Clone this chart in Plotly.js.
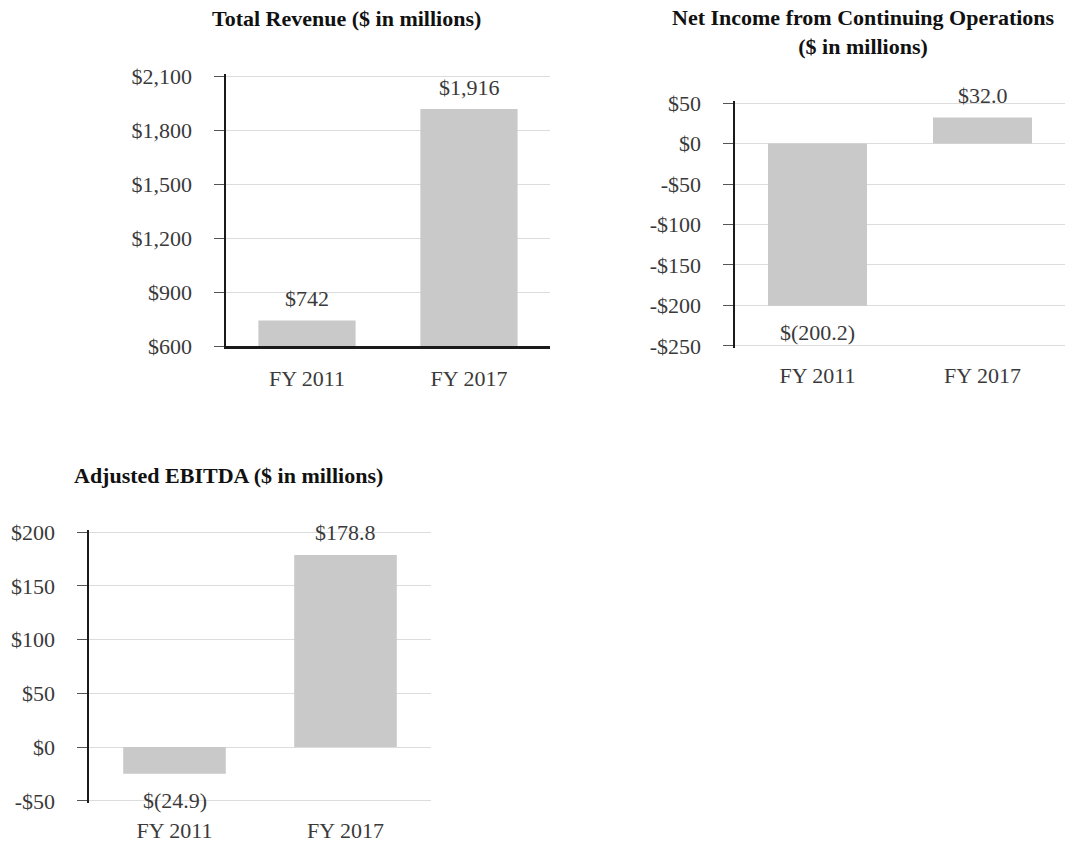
<!DOCTYPE html>
<html>
<head>
<meta charset="utf-8">
<script src="https://cdn.plot.ly/plotly-3.0.1.min.js"></script>
<style>
  html, body { margin: 0; padding: 0; background: #ffffff; }
  #chart { width: 1065px; height: 846px; }
</style>
</head>
<body>
<div id="chart"></div>
<script>
// ---- Data ----
const categories = ["FY 2011", "FY 2017"];

const revenueValues = [742, 1916];
const revenueLabels = ["$742", "$1,916"];
const revenueTickVals = [600, 900, 1200, 1500, 1800, 2100];
const revenueTickText = ["$600", "$900", "$1,200", "$1,500", "$1,800", "$2,100"];

const netIncomeValues = [-200.2, 32.0];
const netIncomeLabels = ["$(200.2)", "$32.0"];
const netIncomeTickVals = [-250, -200, -150, -100, -50, 0, 50];
const netIncomeTickText = ["-$250", "-$200", "-$150", "-$100", "-$50", "$0", "$50"];

const ebitdaValues = [-24.9, 178.8];
const ebitdaLabels = ["$(24.9)", "$178.8"];
const ebitdaTickVals = [-50, 0, 50, 100, 150, 200];
const ebitdaTickText = ["-$50", "$0", "$50", "$100", "$150", "$200"];

const titles = [
  "Total Revenue ($ in millions)",
  "Net Income from Continuing Operations<br>($ in millions)",
  "Adjusted EBITDA ($ in millions)"
];

// ---- Styles ----
const FONT = "Liberation Serif, Times New Roman, serif";
const FS = 22;
const BAR_COLOR = "#c9c9c9";
const GRID = "#dcdcdc";
const TEXT = "#3a3a3a";
const W = 1065, H = 846;

function barTrace(vals, xa, ya) {
  return {
    type: "bar",
    x: categories,
    y: vals,
    xaxis: xa,
    yaxis: ya,
    marker: { color: BAR_COLOR, line: { width: 0 } },
    hoverinfo: "skip",
    showlegend: false
  };
}

const data = [
  barTrace(revenueValues, "x", "y"),
  barTrace(netIncomeValues, "x2", "y2"),
  barTrace(ebitdaValues, "x3", "y3")
];

// pixel-space helper: domain from top/bottom pixel positions
function yDom(topPx, botPx) { return [1 - botPx / H, 1 - topPx / H]; }

function yAxis(range, tv, tt, domain, anchor) {
  return {
    domain: domain,
    anchor: anchor,
    range: range,
    tickmode: "array",
    tickvals: tv,
    ticktext: tt,
    showgrid: true,
    gridcolor: GRID,
    gridwidth: 1,
    zeroline: false,
    showline: true,
    linecolor: "#1a1a1a",
    linewidth: 2.5,
    ticks: "outside",
    ticklen: 10,
    tickwidth: 1,
    tickcolor: "#555555",
    ticklabelstandoff: 17,
    tickfont: { family: FONT, size: FS, color: TEXT },
    fixedrange: true
  };
}

function xAxis(domain, anchor, standoff, line) {
  return {
    domain: domain,
    anchor: anchor,
    type: "category",
    showgrid: false,
    zeroline: false,
    showline: line,
    linecolor: "#1a1a1a",
    linewidth: 2.5,
    ticks: "",
    ticklabelstandoff: standoff,
    tickfont: { family: FONT, size: FS, color: TEXT },
    fixedrange: true
  };
}

const annotations = [];
function addLabels(vals, labels, xref, yref) {
  vals.forEach((v, i) => {
    annotations.push({
      xref: xref, yref: yref,
      x: categories[i], y: v,
      text: labels[i],
      showarrow: false,
      yshift: v >= 0 ? 22 : -27,
      font: { family: FONT, size: FS, color: TEXT }
    });
  });
}
addLabels(revenueValues, revenueLabels, "x", "y");
addLabels(netIncomeValues, netIncomeLabels, "x2", "y2");
addLabels(ebitdaValues, ebitdaLabels, "x3", "y3");

const titlePos = [
  { x: 347 / W, y: 1 - 18 / H },
  { x: 863 / W, y: 1 - 32 / H },
  { x: 228 / W, y: 1 - 475 / H }
];
titles.forEach((t, i) => {
  annotations.push({
    xref: "paper", yref: "paper",
    x: titlePos[i].x, y: titlePos[i].y,
    xanchor: "center", yanchor: "middle",
    text: "<b>" + t + "</b>",
    showarrow: false,
    font: { family: FONT, size: FS, color: "#111111" }
  });
});

const layout = {
  width: W,
  height: H,
  margin: { l: 0, r: 0, t: 0, b: 0 },
  paper_bgcolor: "#ffffff",
  plot_bgcolor: "rgba(0,0,0,0)",
  bargap: 0.4,
  showlegend: false,
  // ranges are padded a touch past the end ticks so the end gridlines are kept
  xaxis: xAxis([226 / W, 550 / W], "y", 11, true),
  yaxis: yAxis([600, 2110], revenueTickVals, revenueTickText, yDom(74.2, 346), "x"),
  xaxis2: xAxis([735 / W, 1], "y2", 12, false),
  yaxis2: yAxis([-252.5, 52.5], netIncomeTickVals, netIncomeTickText, yDom(101, 348), "x2"),
  xaxis3: xAxis([89 / W, 431 / W], "y3", 12, false),
  yaxis3: yAxis([-52, 202], ebitdaTickVals, ebitdaTickText, yDom(530, 803), "x3"),
  annotations: annotations
};

Plotly.newPlot("chart", data, layout, { displayModeBar: false, staticPlot: true });
</script>
</body>
</html>
